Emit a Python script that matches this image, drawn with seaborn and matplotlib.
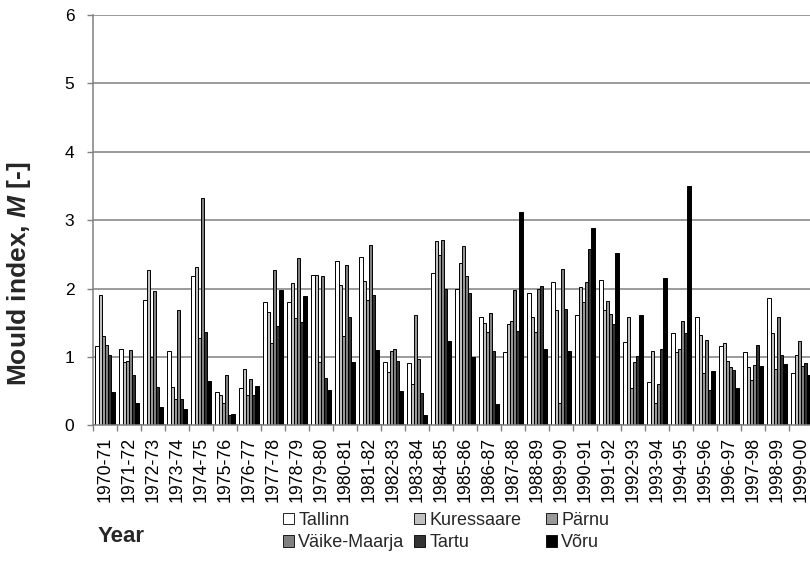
import matplotlib
matplotlib.use("Agg")
import matplotlib.pyplot as plt
from matplotlib.patches import Patch
from matplotlib.ticker import FixedLocator
import numpy as np
import pandas as pd
import seaborn as sns

# Heating seasons
years = ["1970-71", "1971-72", "1972-73", "1973-74", "1974-75", "1975-76",
         "1976-77", "1977-78", "1978-79", "1979-80", "1980-81", "1981-82",
         "1982-83", "1983-84", "1984-85", "1985-86", "1986-87", "1987-88",
         "1988-89", "1989-90", "1990-91", "1991-92", "1992-93", "1993-94",
         "1994-95", "1995-96", "1996-97", "1997-98", "1998-99", "1999-00"]

stations = ["Tallinn", "Kuressaare", "Pärnu", "Väike-Maarja", "Tartu", "Võru"]

# Maximum mould index per season and weather station
tallinn = [1.16, 1.11, 1.83, 1.09, 2.19, 0.48, 0.54, 1.80, 1.81, 2.20,
           2.40, 2.46, 0.93, 0.91, 2.22, 1.99, 1.59, 1.07, 1.94, 2.09,
           1.62, 2.12, 1.22, 0.63, 1.35, 1.59, 1.16, 1.07, 1.86, 0.76]
kuressaare = [1.90, 0.92, 2.27, 0.56, 2.31, 0.45, 0.82, 1.65, 2.08, 2.20,
              2.05, 2.11, 0.78, 0.61, 2.70, 2.37, 1.49, 1.48, 1.59, 1.68,
              2.02, 1.69, 1.59, 1.08, 1.07, 1.32, 1.21, 0.85, 1.35, 1.03]
parnu = [1.30, 0.94, 1.00, 0.38, 1.28, 0.33, 0.45, 1.20, 1.57, 0.92,
         1.30, 1.83, 1.09, 1.62, 2.49, 2.62, 1.37, 1.52, 1.37, 0.33,
         1.81, 1.82, 0.54, 0.32, 1.11, 0.76, 0.94, 0.66, 0.83, 1.23]
vaike_maarja = [1.17, 1.10, 1.96, 1.68, 3.33, 0.73, 0.68, 2.27, 2.45, 2.19,
                2.34, 2.63, 1.12, 0.97, 2.71, 2.18, 1.64, 1.98, 1.99, 2.29,
                2.09, 1.63, 0.93, 0.60, 1.53, 1.25, 0.85, 0.88, 1.58, 0.86]
tartu = [1.03, 0.74, 0.56, 0.38, 1.37, 0.15, 0.44, 1.45, 1.51, 0.69,
         1.58, 1.90, 0.94, 0.47, 1.99, 1.93, 1.08, 1.38, 2.03, 1.70,
         2.58, 1.48, 1.02, 1.11, 1.35, 0.51, 0.81, 1.17, 1.03, 0.91]
voru = [0.48, 0.32, 0.27, 0.24, 0.65, 0.17, 0.58, 1.98, 1.89, 0.51,
        0.93, 1.10, 0.50, 0.15, 1.23, 1.00, 0.31, 3.12, 1.11, 1.09,
        2.88, 2.52, 1.61, 2.15, 3.50, 0.80, 0.54, 0.86, 0.89, 0.74]

y_ticks = [0, 1, 2, 3, 4, 5, 6]

fills = {"Tallinn": "#ffffff", "Kuressaare": "#c0c0c0", "Pärnu": "#999999",
         "Väike-Maarja": "#808080", "Tartu": "#333333", "Võru": "#000000"}

series = [tallinn, kuressaare, parnu, vaike_maarja, tartu, voru]
df = pd.DataFrame({
    "Year": np.tile(years, len(stations)),
    "Station": np.repeat(stations, len(years)),
    "M": np.concatenate(series),
})

sns.set_theme(style="white")
plt.rcParams["font.family"] = ["Liberation Sans", "DejaVu Sans"]
plt.rcParams["mathtext.fontset"] = "custom"
plt.rcParams["mathtext.rm"] = "Liberation Sans:bold"
plt.rcParams["mathtext.bfit"] = "Liberation Sans:bold:italic"
plt.rcParams["mathtext.it"] = "Liberation Sans:bold:italic"

W, H = 810, 561
fig = plt.figure(figsize=(W / 100, H / 100), dpi=100)
ax = fig.add_axes([93 / W, (H - 425.3) / H, 720 / W, (425.3 - 15) / H])

sns.barplot(data=df, x="Year", y="M", hue="Station", order=years,
            hue_order=stations, palette=fills, saturation=1, width=0.8,
            edgecolor="black", linewidth=0.7, errorbar=None, legend=False,
            ax=ax)

grey = "#808080"
ax.set_xlim(-0.5, len(years) - 0.5)
ax.set_ylim(0, 6)
ax.set_yticks(y_ticks)
ax.set_yticklabels([str(t) for t in y_ticks])
ax.yaxis.grid(True, color=grey, linewidth=1.1)
ax.xaxis.grid(False)
ax.set_axisbelow(True)

ax.set_xticks(range(len(years)))
ax.set_xticklabels(years, rotation=90, va="top", ha="center")
ax.xaxis.set_minor_locator(FixedLocator(np.arange(-0.5, len(years), 1.0)))
ax.tick_params(axis="x", which="major", length=0, pad=8, labelsize=12.8,
               labelcolor="black")
ax.tick_params(axis="x", which="minor", length=4.5, width=1, color=grey,
               bottom=True, direction="out")
ax.tick_params(axis="y", length=4.5, width=1, color=grey, pad=9,
               labelsize=12.5, labelcolor="black", left=True, direction="out")

for side in ("top", "right"):
    ax.spines[side].set_visible(False)
for side in ("left", "bottom"):
    ax.spines[side].set_color(grey)
    ax.spines[side].set_linewidth(1.1)

ax.set_xlabel("")
ax.set_ylabel("")

fig.text(19.5 / W, 1 - 274 / H, r"Mould index, $\mathbfit{M}$ [-]",
         rotation=90, ha="center", va="center", fontsize=19,
         fontweight="bold")
fig.text(98 / W, 1 - 537 / H, "Year", ha="left", va="center",
         fontsize=16, fontweight="bold")

# Legend laid out as three equally spaced columns
columns = [["Tallinn", "Väike-Maarja"], ["Kuressaare", "Tartu"],
           ["Pärnu", "Võru"]]
col_x = [283, 414, 546]
for names, x0 in zip(columns, col_x):
    handles = [Patch(facecolor=fills[n], edgecolor="black", linewidth=0.6,
                     label=n) for n in names]
    fig.legend(handles=handles, loc="upper left",
               bbox_to_anchor=(x0 / W, 1 - 512 / H), frameon=False,
               fontsize=13, handlelength=0.6, handleheight=0.6,
               handletextpad=0.25, labelspacing=0.3, borderpad=0,
               borderaxespad=0)

fig.savefig("out.png", dpi=100, facecolor="white")
